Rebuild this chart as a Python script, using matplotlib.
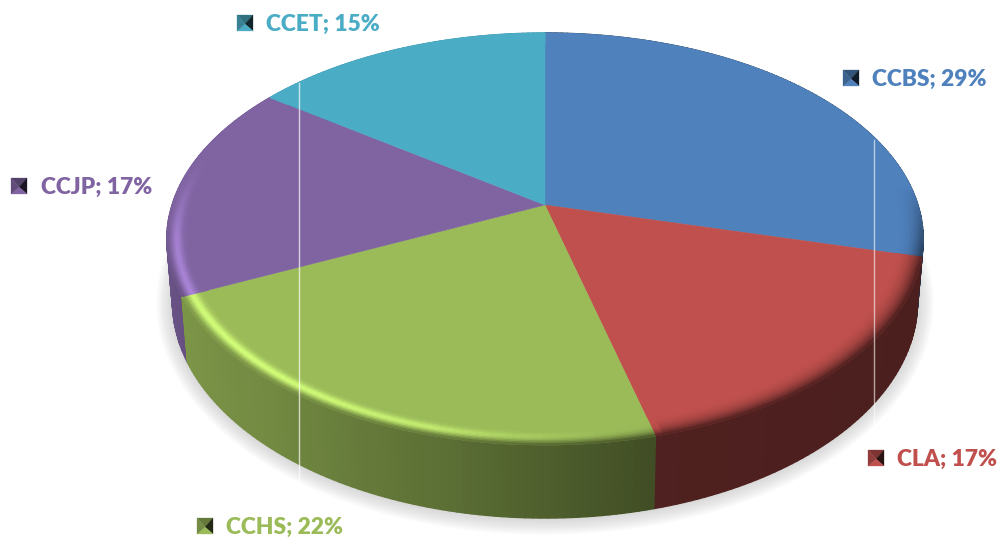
import numpy as np
import matplotlib
matplotlib.use("Agg")
import matplotlib.pyplot as plt
from matplotlib.collections import PolyCollection
from matplotlib.colors import to_rgb

names = ["CCBS", "CLA", "CCHS", "CCJP", "CCET"]
values = [29, 17, 22, 17, 15]
colors = ["#4f81bd", "#c0504d", "#9bbb59", "#8064a2", "#4bacc6"]

# key box left / top in pixels, text starts a bit to the right
key_x = [843, 868, 197, 11, 237]
key_y = [70, 450, 518, 178, 15]
text_x = [872, 897, 226, 41, 266]

# projection of the tilted disc
cx, cy = 545.0, 205.0
R, S, k = 373.0, 200.4, 0.165
D = 61.0


def top_pt(theta, r=1.0):
    # theta is degrees clockwise from 12 o'clock
    t = np.radians(theta)
    u = r * np.sin(t)
    v = r * np.cos(t)
    w = 1 + k * v
    return cx + R * u / w, cy - S * v / w


def bottom_pt(theta):
    x, y = top_pt(theta)
    w = 1 + k * np.cos(np.radians(theta))
    return cx + (x - cx) * 0.985, y + D / w


def side_shade(theta):
    return np.interp(theta, [90, 165, 194, 221, 245, 270], [0.38, 0.41, 0.6, 0.74, 0.8, 0.86])


def mix(a, b, f):
    return tuple(a[i] * (1 - f) + b[i] * f for i in range(3))


def clamp(c):
    return tuple(min(1, max(0, x)) for x in c)


fig = plt.figure(figsize=(9.98, 5.38), dpi=100)
ax = fig.add_axes([0, 0, 1, 1])
ax.set_xlim(0, 998)
ax.set_ylim(538, 0)
ax.axis("off")

edges = np.concatenate([[0], np.cumsum(values)]) * 360.0 / sum(values)

# soft shadow
th = np.linspace(0, 360, 361)
bx, by = bottom_pt(th)
for grow in np.arange(16, 0, -1.5):
    sx = cx + (bx - cx) * (1 + grow / 370.0)
    sy = by + 1 + (by - 300) * (grow / 220.0)
    ax.fill(sx, sy, color="#808080", alpha=0.028, lw=0, zorder=1)

# sides, back to front
polys, cols, order = [], [], []
for i in range(len(values)):
    base = to_rgb(colors[i])
    ang = np.arange(edges[i], edges[i + 1] + 0.01, 1.0)
    if ang[-1] < edges[i + 1]:
        ang = np.append(ang, edges[i + 1])
    for a, b in zip(ang[:-1], ang[1:]):
        mid = (a + b) / 2
        p1, p2 = top_pt(a), top_pt(b)
        p3, p4 = bottom_pt(b), bottom_pt(a)
        polys.append([p1, p2, p3, p4])
        cols.append(clamp([c * side_shade(mid) for c in base]))
        order.append(-np.cos(np.radians(mid)))
idx = np.argsort(order)
ax.add_collection(PolyCollection([polys[j] for j in idx], facecolors=[cols[j] for j in idx],
                                 edgecolors=[cols[j] for j in idx], linewidths=1.0, zorder=2))

# flat top
inner = 0.93
for i in range(len(values)):
    ang = np.linspace(edges[i], edges[i + 1], 120)
    xs, ys = top_pt(ang)
    ax.fill(np.r_[cx, xs], np.r_[cy, ys], color=colors[i], lw=0.3, zorder=3)

# bevel ring on the rim
polys, cols = [], []
rings = np.linspace(inner, 1.0, 15)
for i in range(len(values)):
    base = to_rgb(colors[i])
    ang = np.linspace(edges[i], edges[i + 1], int(values[i] * 3.6) + 2)
    for a, b in zip(ang[:-1], ang[1:]):
        mid = (a + b) / 2
        v = np.cos(np.radians(mid))
        front = np.clip((0.1 - v) / 0.4, 0, 1)
        light = max(np.cos(np.radians(mid - 225)), 0) ** 1.5
        light *= np.clip((0.25 - v) / 0.4, 0, 1) * np.clip((mid - 160) / 35, 0, 1)
        side = tuple(c * side_shade(mid) for c in base)
        # green keeps a sharp edge, red fades softly into its dark side
        power = 4 if mid > 165 else 2.5
        for r1, r2 in zip(rings[:-1], rings[1:]):
            t = ((r1 + r2) / 2 - inner) / (1 - inner)
            c = mix(base, side, front * t ** power)
            bump = np.exp(-((t - 0.65) / 0.2) ** 2)
            c = [x * (1 + 0.42 * light * bump) for x in c]
            polys.append([top_pt(a, r1), top_pt(b, r1), top_pt(b, r2), top_pt(a, r2)])
            cols.append(clamp(c))
ax.add_collection(PolyCollection(polys, facecolors=cols, edgecolors=cols, linewidths=0.6, zorder=4))

# the two thin white lines across the chart
ax.plot([299.5, 299.5], [83, 484], color="white", lw=1, alpha=0.7, zorder=5)
ax.plot([874, 874], [140, 430], color="white", lw=1, alpha=0.6, zorder=5)

# labels with little pyramid keys
for i in range(len(names)):
    base = to_rgb(colors[i])
    x0, y0 = key_x[i], key_y[i]
    mx, my = x0 + 8, y0 + 9
    corners = [(x0, y0), (x0 + 16, y0), (x0 + 16, y0 + 16), (x0, y0 + 16)]
    shades = [0.65, 0.22, 1.0, 0.75]
    for j in range(4):
        tri = [corners[j], corners[(j + 1) % 4], (mx, my)]
        ax.fill(*zip(*tri), color=clamp([c * shades[j] for c in base]), lw=0.2, zorder=6)
    ax.text(text_x[i], y0 + 9.5, "%s; %d%%" % (names[i], values[i]), color=colors[i], fontsize=16.4,
            fontweight="heavy", family="Lato", va="center", ha="left", zorder=6)

fig.savefig("out.png", dpi=100)
